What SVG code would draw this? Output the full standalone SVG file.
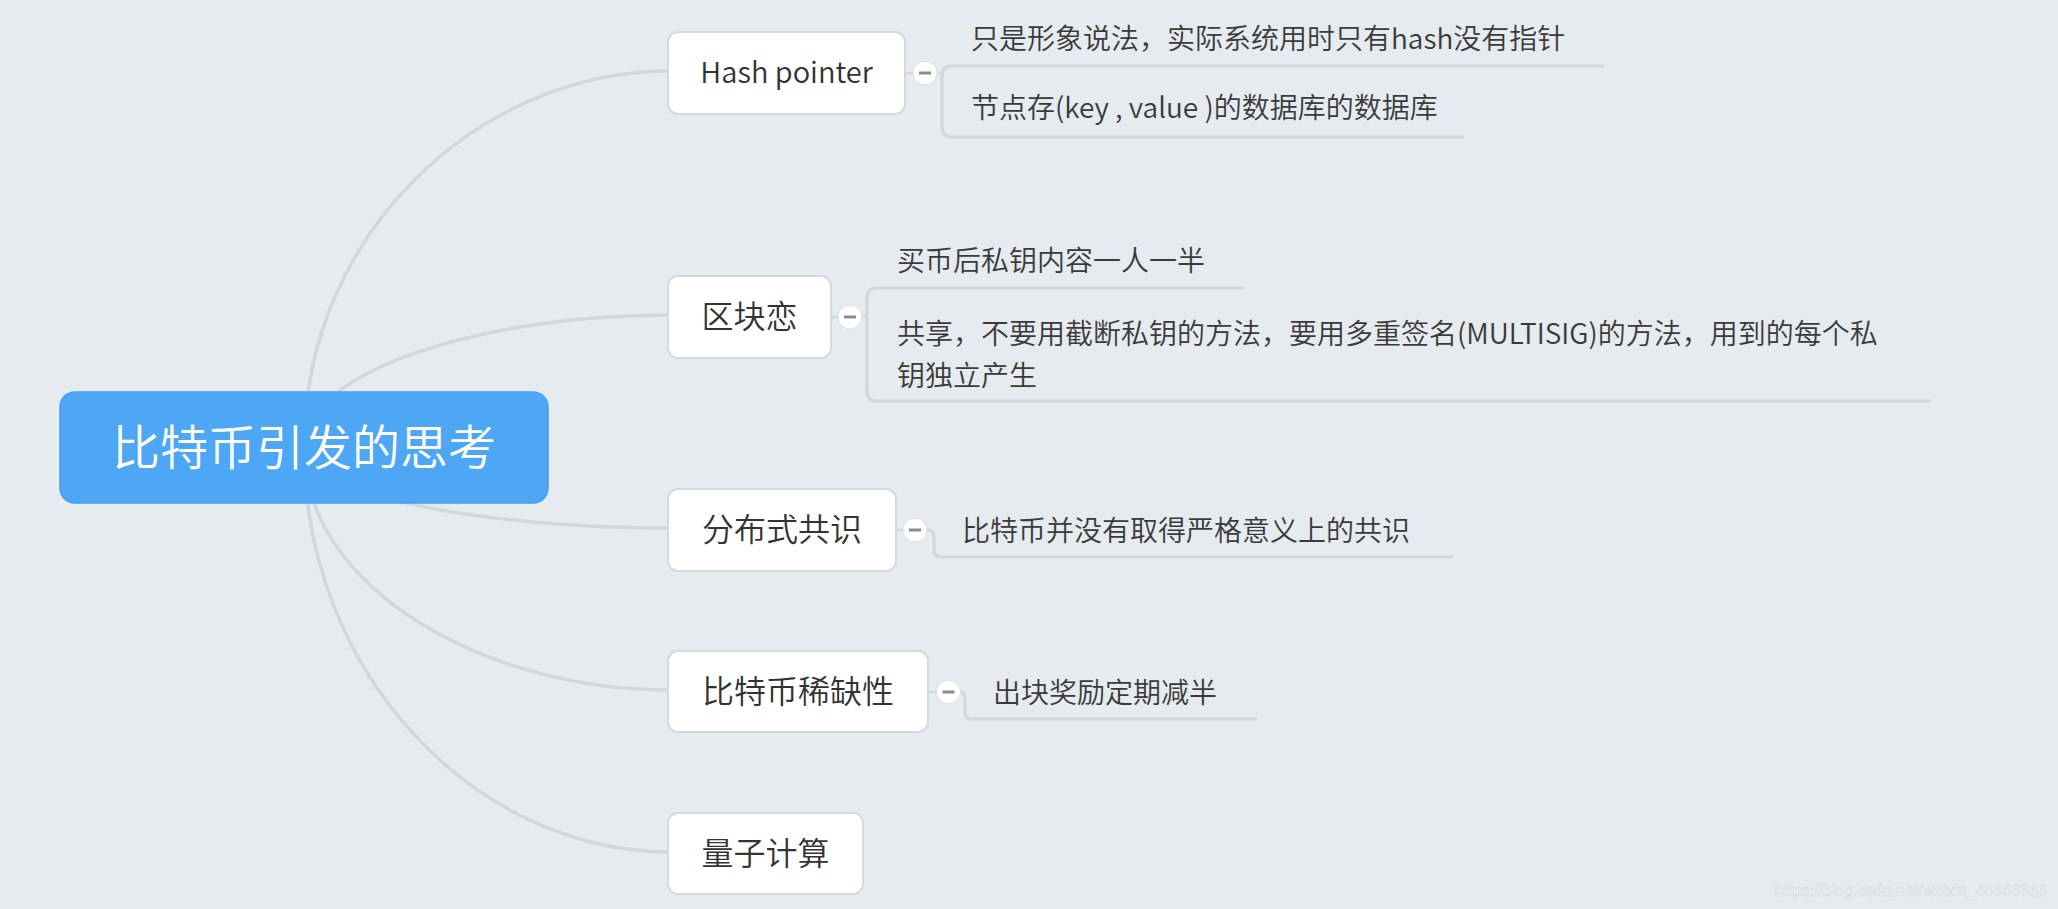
<svg xmlns="http://www.w3.org/2000/svg" width="2058" height="909" viewBox="0 0 2058 909">
<style>
.conn{fill:none;stroke:#D2D7DB;stroke-width:3.5;stroke-linecap:round}
.br{fill:none;stroke:#D2D7DB;stroke-width:3.2}
.stub{fill:none;stroke:#D2D7DB;stroke-width:2.5}
.box{fill:#FFFFFF;stroke:#D5D9DD;stroke-width:2}
.main{font-family:"Noto Sans CJK SC","Noto Sans",sans-serif;font-size:32px;font-weight:350;fill:#333333;text-anchor:middle}
.sub{font-family:"Noto Sans CJK SC","Noto Sans",sans-serif;font-size:28px;font-weight:350;fill:#3A3A3A}
.root{font-family:"Noto Sans CJK SC","Noto Sans",sans-serif;font-size:48px;font-weight:350;fill:#FFFFFF;text-anchor:middle}
.tog{fill:#FFFFFF;stroke:#DCE0E3;stroke-width:1}
.dash{stroke:#8C8C8C;stroke-width:3}
</style>
<rect width="2058" height="909" fill="#E5EBEF"/>
<g id="connectors">
<path class="conn" d="M304,447 C304,233 480,71 669,71"/>
<path class="conn" d="M304,447 C304,372 480,315 669,315"/>
<path class="conn" d="M304,447 C304,494 480,528 669,528"/>
<path class="conn" d="M304,447 C304,585 480,690 669,690"/>
<path class="conn" d="M304,447 C304,678 480,852 669,852"/>
<path class="stub" d="M905,73 H914 M937,73 H942"/>
<path class="br" d="M952,66 Q942,66 942,76 V127 Q942,137 952,137 M952,66 H1604 M952,137 H1464"/>
<path class="stub" d="M831,317 H839 M862,317 H867"/>
<path class="br" d="M877,288 Q867,288 867,298 V391 Q867,401 877,401 M877,288 H1244 M877,401 H1931"/>
<path class="stub" d="M896,530 H904"/>
<path class="br" d="M927,530 Q934,530 934,537 V550 Q934,557 941,557 H1453"/>
<path class="stub" d="M928,692 H937"/>
<path class="br" d="M960,692 Q965,692 965,698 V713 Q965,719 971,719 H1257"/>
</g>
<g id="root">
<rect x="60" y="392" width="488" height="111" rx="15" fill="#4EA7F5" stroke="#47A0EE" stroke-width="1.5"/>
<text class="root" x="304" y="465">比特币引发的思考</text>
</g>
<g id="n-hash">
<rect class="box" x="668" y="32" width="237" height="82" rx="10"/>
<text class="main" x="786.5" y="83" style="font-size:29px">Hash pointer</text>
<circle class="tog" cx="925" cy="73" r="12"/>
<line class="dash" x1="919" y1="73" x2="931" y2="73"/>
</g>
<g id="n-hash-1"><text class="sub" x="971" y="49">只是形象说法，实际系统用时只有hash没有指针</text></g>
<g id="n-hash-2"><text class="sub" x="971" y="118">节点存(key , value )的数据库的数据库</text></g>
<g id="n-block">
<rect class="box" x="668" y="276" width="163" height="82" rx="10"/>
<text class="main" x="749.5" y="328">区块恋</text>
<circle class="tog" cx="850" cy="317" r="12"/>
<line class="dash" x1="844" y1="317" x2="856" y2="317"/>
</g>
<g id="n-block-1"><text class="sub" x="897" y="271">买币后私钥内容一人一半</text></g>
<g id="n-block-2"><text class="sub" x="897" y="344">共享，不要用截断私钥的方法，要用多重签名(MULTISIG)的方法，用到的每个私</text><text class="sub" x="897" y="386">钥独立产生</text></g>
<g id="n-consensus">
<rect class="box" x="668" y="489" width="228" height="82" rx="10"/>
<text class="main" x="782" y="541">分布式共识</text>
<circle class="tog" cx="915" cy="530" r="12"/>
<line class="dash" x1="909" y1="530" x2="921" y2="530"/>
</g>
<g id="n-consensus-1"><text class="sub" x="962" y="541">比特币并没有取得严格意义上的共识</text></g>
<g id="n-scarcity">
<rect class="box" x="668" y="651" width="260" height="81" rx="10"/>
<text class="main" x="798" y="703">比特币稀缺性</text>
<circle class="tog" cx="948.5" cy="692" r="12"/>
<line class="dash" x1="942.5" y1="692" x2="954.5" y2="692"/>
</g>
<g id="n-scarcity-1"><text class="sub" x="993" y="703">出块奖励定期减半</text></g>
<g id="n-quantum">
<rect class="box" x="668" y="813" width="195" height="81" rx="10"/>
<text class="main" x="765.5" y="865">量子计算</text>
</g>
<text x="2047" y="896" font-family="Liberation Sans, Arial, sans-serif" font-size="16" fill="#F7F9FA" stroke="#CDD3D8" stroke-width="0.5" text-anchor="end">https://blog.csdn.net/weixin_40668866</text>
</svg>
